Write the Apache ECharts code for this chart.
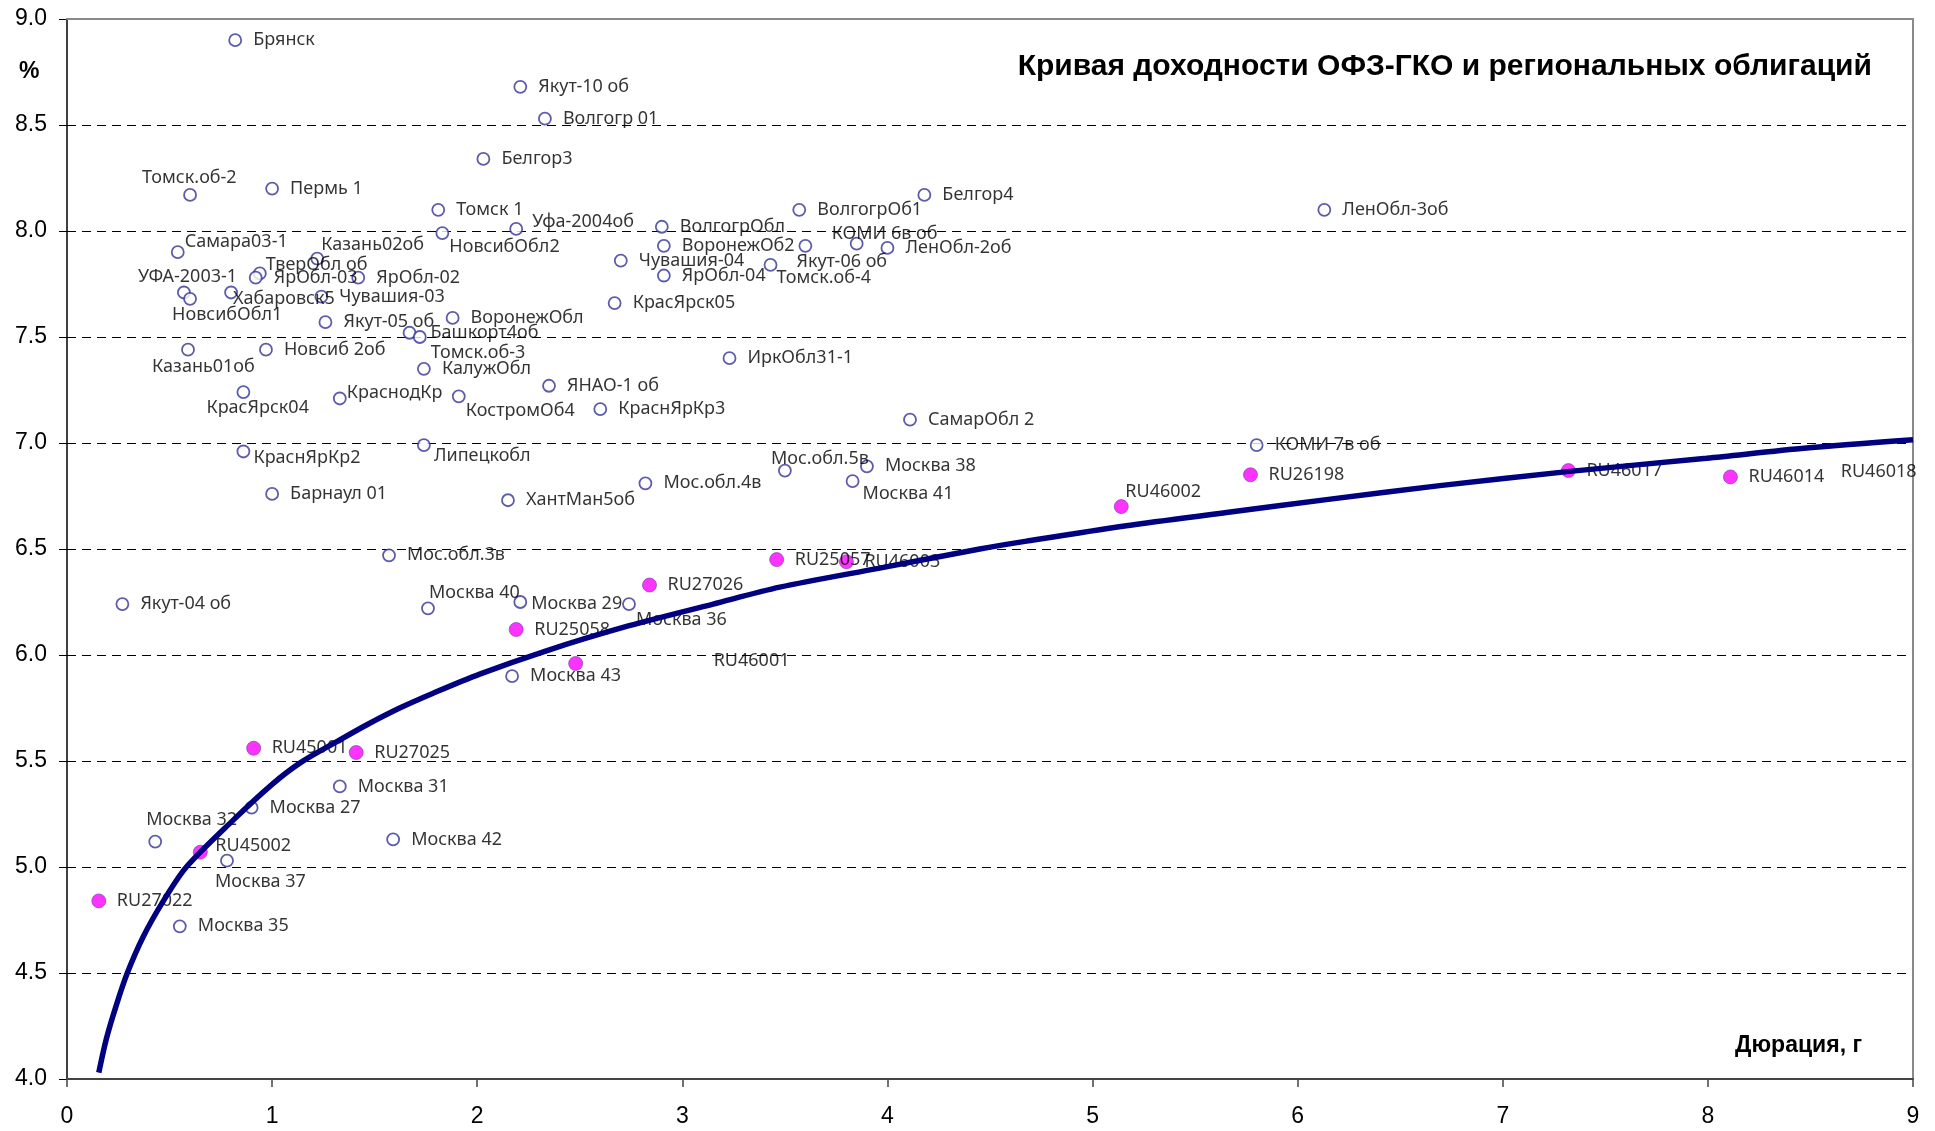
<!DOCTYPE html>
<html><head><meta charset="utf-8">
<script src="https://cdn.jsdelivr.net/npm/echarts@6/dist/echarts.min.js"></script>
<style>html,body{margin:0;padding:0;background:#fff}#c{width:1935px;height:1131px}</style>
</head><body><div id="c"></div>
<script>
// ---------- DATA ----------
const regionalNames = ['Брянск','Якут-10 об','Волгогр 01','Белгор3','Томск.об-2','Пермь 1','Белгор4','Томск 1','ВолгогрОб1','ЛенОбл-3об',
 'Уфа-2004об','ВолгогрОбл','НовсибОбл2','Самара03-1','Казань02об','КОМИ 6в об','ВоронежОб2','Якут-06 об','ЛенОбл-2об','ТверОбл об',
 'ЯрОбл-03','ЯрОбл-02','Чувашия-04','Томск.об-4','ЯрОбл-04','УФА-2003-1','Хабаровск5','НовсибОбл1','Чувашия-03','КрасЯрск05',
 'ВоронежОбл','Якут-05 об','Башкорт4об','Томск.об-3','Казань01об','Новсиб 2об','ИркОбл31-1','КалужОбл','ЯНАО-1 об','КрасЯрск04',
 'КраснодКр','КостромОб4','КраснЯрКр3','СамарОбл 2','КраснЯрКр2','Липецкобл','КОМИ 7в об','Москва 38','Мос.обл.5в','Москва 41',
 'Мос.обл.4в','Барнаул 01','ХантМан5об','Мос.обл.3в','Москва 29','Москва 36','Якут-04 об','Москва 40','Москва 43','Москва 31',
 'Москва 27','Москва 42','Москва 32','Москва 37','Москва 35'];
const regionalDuration = [0.82,2.21,2.33,2.03,0.60,1.00,4.18,1.81,3.57,6.13,
 2.19,2.90,1.83,0.54,1.22,3.85,2.91,3.60,4.00,0.94,
 0.92,1.42,2.70,3.43,2.91,0.57,0.80,0.60,1.24,2.67,
 1.88,1.26,1.67,1.72,0.59,0.97,3.23,1.74,2.35,0.86,
 1.33,1.91,2.60,4.11,0.86,1.74,5.80,3.90,3.50,3.83,
 2.82,1.00,2.15,1.57,2.21,2.74,0.27,1.76,2.17,1.33,
 0.90,1.59,0.43,0.78,0.55];
const regionalYield = [8.90,8.68,8.53,8.34,8.17,8.20,8.17,8.10,8.10,8.10,
 8.01,8.02,7.99,7.90,7.87,7.94,7.93,7.93,7.92,7.80,
 7.78,7.78,7.86,7.84,7.79,7.71,7.71,7.68,7.69,7.66,
 7.59,7.57,7.52,7.50,7.44,7.44,7.40,7.35,7.27,7.24,
 7.21,7.22,7.16,7.11,6.96,6.99,6.99,6.89,6.87,6.82,
 6.81,6.76,6.73,6.47,6.25,6.24,6.24,6.22,5.90,5.38,
 5.28,5.13,5.12,5.03,4.72];

const ofzNames = ['RU27022','RU45002','RU45001','RU27025','RU25058','RU46001','RU27026','RU25057','RU46003','RU46002','RU26198','RU46017','RU46014','RU46018'];
const ofzDuration = [0.155,0.65,0.91,1.41,2.19,2.48,2.84,3.46,3.80,5.14,5.77,7.32,8.11,8.56];
const ofzYield = [4.84,5.07,5.56,5.54,6.12,5.96,6.33,6.45,6.44,6.70,6.85,6.87,6.84,6.865];

const curveDuration = [0.155,0.192,0.241,0.294,0.371,0.47,0.582,0.809,1.0,1.135,1.313,1.46,1.622,1.785,2.012,2.337,2.711,3.15,3.475,3.962,4.45,4.678,5.165,5.653,6.14,6.693,7.315,7.993,8.481,9.0];
const curveYield = [4.03,4.19,4.35,4.50,4.67,4.84,5.00,5.22,5.39,5.49,5.59,5.67,5.75,5.82,5.91,6.02,6.13,6.24,6.32,6.41,6.50,6.537,6.61,6.672,6.733,6.799,6.865,6.928,6.976,7.015];

const xTickValues = [0,1,2,3,4,5,6,7,8,9];
const yTickLabels = ['4.0','4.5','5.0','5.5','6.0','6.5','7.0','7.5','8.0','8.5','9.0'];

// ---------- STYLE (label placement relative to marker centre, px) ----------
const labelOffsets = {
 'Томск.об-2':[-48,-17],'Самара03-1':[7,-10],'Казань02об':[4,-14],'ТверОбл об':[6,-9],'УФА-2003-1':[-46,-16],
 'НовсибОбл1':[-18,16],'Хабаровск5':[2,6],'Томск.об-3':[11,16],'Казань01об':[-36,17],'НовсибОбл2':[7,14],
 'Уфа-2004об':[16,-7],'КОМИ 6в об':[-25,-10],'Якут-06 об':[-9,16],'Томск.об-4':[6,13],'КрасЯрск04':[-37,16],
 'КраснодКр':[7,-6],'КостромОб4':[7,15],'КраснЯрКр2':[10,6],'Липецкобл':[10,11],'Москва 40':[1,-15],
 'Мос.обл.5в':[-14,-12],'Москва 41':[10,13],'Москва 29':[11,2],'Москва 36':[7,16],'RU46001':[138,-3],
 'RU46002':[4,-15],'Москва 32':[-9,-22],'RU45002':[15,-6],'Москва 37':[-12,21],'Башкорт4об':[21,0]
};
const hiddenMarkers = {'RU46018': true};
const LABEL_FONT = '"Noto Sans", "DejaVu Sans", sans-serif';
const AXIS_FONT = '"Liberation Sans", Arial, sans-serif';

function pts(names, xs, ys) {
  return names.map((n, i) => {
    const off = labelOffsets[n] || [18, 0];
    const item = { name: n, value: [xs[i], ys[i]], label: { offset: off } };
    if (hiddenMarkers[n]) item.symbolSize = 0;
    return item;
  });
}

const chart = echarts.init(document.getElementById('c'), null, { renderer: 'canvas' });
const baseLabel = {
  show: true, position: 'inside', align: 'left', verticalAlign: 'middle',
  formatter: p => p.name, color: '#000', fontFamily: LABEL_FONT, fontSize: 18
};
chart.setOption({
  animation: false,
  backgroundColor: '#fff',
  title: [
    { text: 'Кривая доходности ОФЗ-ГКО и региональных облигаций', right: 58, top: 47,
      textStyle: { fontFamily: AXIS_FONT, fontWeight: 'bold', fontSize: 30, color: '#000' } },
    { text: '%', left: 14, top: 55,
      textStyle: { fontFamily: AXIS_FONT, fontWeight: 'bold', fontSize: 23, color: '#000' } },
    { text: 'Дюрация, г', right: 68, top: 1029,
      textStyle: { fontFamily: AXIS_FONT, fontWeight: 'bold', fontSize: 23, color: '#000' } }
  ],
  grid: { left: 67, top: 19, width: 1846, height: 1060, show: false },
  xAxis: [
    {
      type: 'value', min: xTickValues[0], max: xTickValues[xTickValues.length - 1], interval: 1,
      axisLine: { show: true, onZero: false, lineStyle: { color: '#444', width: 2 } },
      axisTick: { show: true, length: 8, lineStyle: { color: '#444', width: 1.5 } },
      axisLabel: { margin: 26, color: '#000', fontSize: 23, fontFamily: AXIS_FONT, formatter: v => String(v) },
      splitLine: { show: false }, z: 3
    },
    {
      type: 'value', position: 'top', min: 0, max: 9, interval: 1,
      axisLine: { show: true, onZero: false, lineStyle: { color: '#8a8a8a', width: 2 } },
      axisTick: { show: false }, axisLabel: { show: false }, splitLine: { show: false }, z: 3
    }
  ],
  yAxis: [
    {
      type: 'value', min: 4, max: 9, interval: 0.5,
      axisLine: { show: true, onZero: false, lineStyle: { color: '#000', width: 1.5 } },
      axisTick: { show: true, length: 8, lineStyle: { color: '#000', width: 1 } },
      axisLabel: { margin: 20, color: '#000', fontSize: 23, fontFamily: AXIS_FONT,
        formatter: v => yTickLabels[Math.round((v - 4) / 0.5)] },
      splitLine: { show: true, lineStyle: { color: '#000', width: 1, type: [9, 6] } }
    },
    {
      type: 'value', position: 'right', min: 4, max: 9, interval: 0.5,
      axisLine: { show: true, onZero: false, lineStyle: { color: '#8a8a8a', width: 2 } },
      axisTick: { show: false }, axisLabel: { show: false }, splitLine: { show: false }, z: 3
    }
  ],
  series: [
    {
      name: 'Региональные облигации', type: 'scatter', symbol: 'circle', symbolSize: 12,
      itemStyle: { color: '#fff', borderColor: '#333399', borderWidth: 1.8 },
      label: baseLabel,
      data: pts(regionalNames, regionalDuration, regionalYield),
      z: 4
    },
    {
      name: 'ОФЗ-ГКО', type: 'scatter', symbol: 'circle', symbolSize: 14,
      itemStyle: { color: '#ff00ff', borderColor: '#6a3fa8', borderWidth: 0.8 },
      label: baseLabel,
      data: pts(ofzNames, ofzDuration, ofzYield),
      z: 4
    },
    {
      name: 'Кривая', type: 'line', smooth: 0.3, showSymbol: false, symbol: 'none',
      lineStyle: { color: '#000080', width: 5.5 },
      data: curveDuration.map((x, i) => [x, curveYield[i]]),
      z: 5
    }
  ]
});
</script></body></html>
